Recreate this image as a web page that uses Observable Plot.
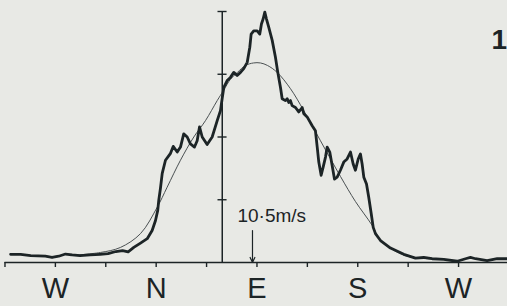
<!DOCTYPE html>
<html>
<head>
<meta charset="utf-8">
<script src="https://cdn.jsdelivr.net/npm/d3@7"></script>
<script src="https://cdn.jsdelivr.net/npm/@observablehq/plot@0.6"></script>
<style>
  html, body { margin: 0; padding: 0; background: #e8e8e5; }
  #chart svg { display: block; }
</style>
</head>
<body>
<div id="chart"></div>
<script>
// Azimuth in degrees (N = 0, E = 90, S = 180, W = 270 / -90); value in axis units
const observedDir = [-130,-121,-112,-99,-93,-87,-81,-75,-68,-59,-50,-43,-36,-30,-25,-20,-14,-8,-3.6,-0.6,1.4,2.3,3.8,5.4,8.3,12.8,15.2,18.8,21.7,24.6,27.7,30.6,34.2,36.6,38.7,41.1,45.5,50,54.5,57.4,58.9,60.4,63.4,66.3,69.3,72.3,75.3,78.2,81.3,83.6,84.8,87.1,90.2,92.5,94,95.5,97,98.5,100.5,103.6,106.5,108.6,111,112.5,115.4,117,118.4,119.9,121.4,124.4,127.3,130.4,131.8,134.8,139.3,142.2,143.8,145.2,147.3,149.1,151.2,152.7,155,157.1,159.2,161.6,164.5,167.5,170.5,173.5,175.9,177.9,180.4,182.4,183.9,185.4,187.8,189.8,192,193.8,195.8,200.3,209.2,221.1,231.5,238.9,246.4,256.8,268.8,276.2,280.6,285.1,295.5,304.5,313.4];
const observedVal = [0.13,0.13,0.11,0.10,0.08,0.10,0.135,0.12,0.11,0.12,0.13,0.14,0.175,0.19,0.17,0.24,0.31,0.38,0.51,0.67,0.83,0.99,1.18,1.42,1.63,1.74,1.85,1.76,1.84,2.05,2.00,1.89,1.84,1.94,2.16,2.00,1.88,2.00,2.26,2.42,2.61,2.79,2.90,2.95,3.03,2.98,3.03,3.09,3.19,3.43,3.64,3.69,3.69,3.64,3.80,3.88,3.99,3.88,3.75,3.54,3.27,3.03,2.79,2.61,2.58,2.61,2.55,2.58,2.50,2.47,2.40,2.47,2.37,2.32,2.18,2.10,1.84,1.60,1.39,1.52,1.68,1.84,1.76,1.55,1.33,1.36,1.47,1.60,1.65,1.76,1.57,1.47,1.65,1.73,1.57,1.36,1.25,1.04,0.78,0.56,0.46,0.35,0.23,0.13,0.07,0.08,0.06,0.05,0.02,0.06,0.08,0.06,0.03,0.06,0.06];

const fittedDir = [-76.5,-49.7,-31.9,-14,0.9,9.8,21.7,33.6,44,54.5,60.1,66.3,72.6,79.7,86.9,93.1,99.4,108,119.9,131.8,146.7,164.6,178,192.9,200.3,218.1,229.7,253.8];
const fittedVal = [0.11,0.16,0.24,0.46,0.88,1.20,1.63,2.00,2.26,2.58,2.74,2.92,3.03,3.14,3.18,3.18,3.14,3.03,2.77,2.42,1.94,1.37,0.97,0.59,0.35,0.14,0.08,0.05];

const xTicks = [-135,-90,-45,0,45,90,135,180,225,270,315];
const xTickLabels = ["","W","","N","","E","","S","","W",""];
const yTicks = [1,2,3,4];
const yAxisDir = 59;          // azimuth where the vertical scale is drawn
const arrowDir = 86;          // mean wind arrow
const arrowLen = 0.51;
const arrowLabel = "10·5m/s";
const panelLabel = "1";

const observed = observedDir.map((d, i) => ({dir: d, val: observedVal[i]}));
const fitted = fittedDir.map((d, i) => ({dir: d, val: fittedVal[i]}));
const labelMap = new Map(xTicks.map((t, i) => [t, xTickLabels[i]]));

const ink = "#1c2426";
const chart = Plot.plot({
  width: 507,
  height: 306,
  marginLeft: 0,
  marginRight: 0,
  marginTop: 11,
  marginBottom: 44,
  x: {domain: [-139, 313.7], axis: null},
  y: {domain: [0, 4], axis: null},
  style: {background: "#e8e9e5", overflow: "visible"},
  marks: [
    // horizontal base line and ticks
    Plot.ruleY([0], {x1: xTicks[0], x2: 313.7, stroke: ink, strokeWidth: 1.6}),
    Plot.axisX({ticks: xTicks, tickSize: 5, tickPadding: 10, stroke: ink, strokeWidth: 1.4,
      tickFormat: d => labelMap.get(d), fontSize: 29, fill: ink,
      fontFamily: "Liberation Sans", anchor: "bottom"}),
    // vertical scale
    Plot.ruleX([yAxisDir], {y1: 0, y2: 4, stroke: ink, strokeWidth: 1.5}),
    Plot.ruleY(yTicks, {x1: yAxisDir - 3.8, x2: yAxisDir + 4.3, stroke: ink, strokeWidth: 1.4}),
    // fitted curve
    Plot.line(fitted, {x: "dir", y: "val", curve: "catmull-rom", stroke: "#4a5052", strokeWidth: 1}),
    // observed curve
    Plot.line(observed, {x: "dir", y: "val", stroke: ink, strokeWidth: 2.8, strokeLinejoin: "round"}),
    // arrow & label
    Plot.arrow([{x: arrowDir, y1: arrowLen, y2: 0}], {x1: "x", x2: "x", y1: "y1", y2: "y2",
      stroke: ink, strokeWidth: 1.2, headLength: 7, headAngle: 50}),
    Plot.text([arrowLabel], {x: arrowDir, y: arrowLen, dx: -15, dy: -8, textAnchor: "start",
      lineAnchor: "bottom", fontSize: 19, fontFamily: "Liberation Sans", fill: ink,
      style: "letter-spacing:2.3px"}),
    Plot.text([panelLabel], {frameAnchor: "top-right", dx: -16, dy: 37, textAnchor: "start",
      lineAnchor: "bottom", fontSize: 28, fontWeight: "bold", fontFamily: "Liberation Sans", fill: ink})
  ]
});
document.getElementById("chart").appendChild(chart);
</script>
</body>
</html>
